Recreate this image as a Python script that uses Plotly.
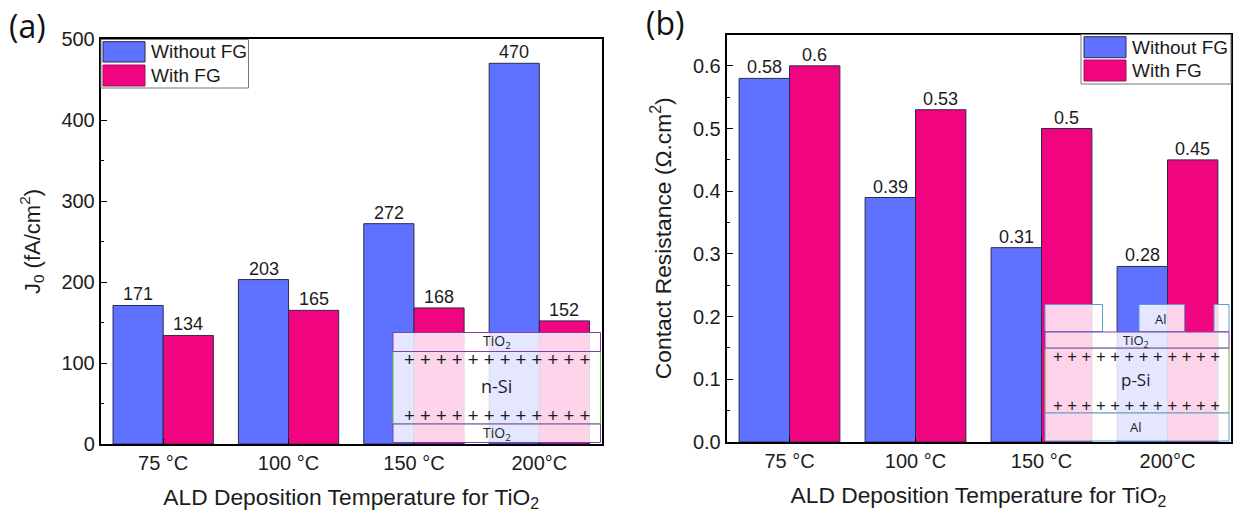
import plotly.graph_objects as go

W, H = 1233, 517
ML, MR, MT, MB = 100, 2, 30, 72

categories = ["75 °C", "100 °C", "150 °C", "200°C"]
series_names = ["Without FG", "With FG"]
j0_without = [171, 203, 272, 470]
j0_with = [134, 165, 168, 152]
rc_without = [0.58, 0.39, 0.31, 0.28]
rc_with = [0.6, 0.53, 0.5, 0.45]

BLUE = "#5f71ff"
PINK = "#f0047f"
EDGE = "#2b2b50"
INK = "#1c1c1c"
SANS = "Liberation Sans"
CAL = "Open Sans"
PURPLE = "#7f3fa8"
LBLUE = "#5b9bd5"
GREEN = "#70ad47"
VEIL = "rgba(255,255,255,0.83)"


def X(p):
    return (p - ML) / (W - ML - MR)


def Y(p):
    return 1 - (p - MT) / (H - MT - MB)


fig = go.Figure()
shapes = []
annots = []

for vals, name, col, xa, ya, shift in [
    (j0_without, series_names[0], BLUE, "x", "y", -25),
    (j0_with, series_names[1], PINK, "x", "y", 25),
    (rc_without, series_names[0], BLUE, "x2", "y2", -25),
    (rc_with, series_names[1], PINK, "x2", "y2", 25),
]:
    fig.add_trace(go.Bar(
        x=categories, y=vals, name=name, xaxis=xa, yaxis=ya,
        marker=dict(color=col, line=dict(color=EDGE, width=1)),
        showlegend=False, offsetgroup=name,
    ))
    for c, v in zip(categories, vals):
        annots.append(dict(xref=xa, yref=ya, x=c, y=v, text=str(v), showarrow=False,
                           xanchor="center", yanchor="bottom", xshift=shift, yshift=-1,
                           font=dict(family=SANS, size=18, color=INK)))


def box(x0, y0, x1, y1, line, fill=VEIL, w=1):
    shapes.append(dict(type="rect", xref="paper", yref="paper",
                       x0=X(x0), x1=X(x1), y0=Y(y0), y1=Y(y1),
                       line=dict(color=line, width=w), fillcolor=fill, layer="above"))


def label(x, y, s, size, family=SANS, anchor="center", color=INK):
    annots.append(dict(xref="paper", yref="paper", x=X(x), y=Y(y), text=s, showarrow=False,
                       xanchor=anchor, yanchor="middle",
                       font=dict(family=family, size=size, color=color)))


def legend(x0, y0, x1, y1, sx0, sx1, s1, s2, tx):
    box(x0, y0, x1, y1, "#777777", "white", 1)
    box(sx0, s1[0], sx1, s1[1], EDGE, BLUE, 1)
    box(sx0, s2[0], sx1, s2[1], "#a0105f", PINK, 1)
    label(tx, (s1[0] + s1[1]) / 2, series_names[0], 19, anchor="left")
    label(tx, (s2[0] + s2[1]) / 2, series_names[1], 19, anchor="left")


# inset (a)
box(393, 351.5, 600.5, 424, GREEN)
box(393, 332.5, 600.5, 351.5, PURPLE)
box(393, 424, 600.5, 442.5, PURPLE)
label(497, 341, "TiO<sub>2</sub>", 14, CAL)
label(497, 433, "TiO<sub>2</sub>", 14, CAL)
label(496, 386, "n-Si", 18, CAL)
plus_row = "+ + + + + + + + + + + +"
label(497, 359, plus_row, 18.5)
label(497, 415, plus_row, 18.5)

# inset (b)
box(1045, 304.5, 1102.5, 331.5, LBLUE)
box(1139, 304.5, 1184.5, 331.5, LBLUE)
box(1214, 304.5, 1229, 331.5, LBLUE)
box(1045, 348, 1229, 413, GREEN)
box(1045, 332, 1229, 348, PURPLE)
box(1045, 413, 1229, 441, LBLUE)
label(1161, 319, "Al", 13, CAL)
label(1136, 341, "TiO<sub>2</sub>", 13, CAL)
label(1135, 379, "p-Si", 17, CAL)
label(1136, 427, "Al", 13, CAL)
label(1136, 356, plus_row, 16.6)
label(1136, 405, plus_row, 16.6)

legend(101, 39.5, 248.5, 88, 103, 145, (41.7, 62), (65, 86), 149)
legend(1081, 34.5, 1231, 84, 1084, 1126, (36.7, 57.7), (60, 81), 1130)

label(7, 25, "(a)", 32, CAL, "left", "#111111")
label(644, 22, "(b)", 32, CAL, "left", "#111111")

fig.update_layout(
    width=W, height=H, autosize=False,
    margin=dict(l=ML, r=MR, t=MT, b=MB),
    paper_bgcolor="white", plot_bgcolor="white",
    barmode="group", bargap=0.2, bargroupgap=0,
    showlegend=False, shapes=shapes, annotations=annots,
    font=dict(family=SANS, color=INK),
)

xcommon = dict(type="category", categoryorder="array", categoryarray=categories,
               showline=True, linecolor="black", linewidth=1.5, mirror=True, automargin=False,
               ticks="inside", ticklen=5, tickcolor="black", showgrid=False,
               tickfont=dict(family=SANS, size=20, color=INK), range=[-0.5, 3.5])
ycommon = dict(showline=True, linecolor="black", linewidth=1.5, mirror=True, automargin=False,
               ticks="inside", ticklen=7, tickcolor="black", showgrid=False, zeroline=False,
               tickfont=dict(family=SANS, size=20, color=INK))
xtitle = "ALD Deposition Temperature for TiO<sub>2</sub>"
TITLE_FONT = dict(family=SANS, size=22.8, color=INK)

fig.update_layout(
    xaxis=dict(domain=[X(100.5), X(602)], anchor="y",
               title=dict(text=xtitle, standoff=16, font=TITLE_FONT), **xcommon),
    yaxis=dict(domain=[Y(444), Y(39)], anchor="x", range=[0, 500], dtick=100,
               minor=dict(dtick=50, ticks="inside", ticklen=4, tickcolor="black"),
               title=dict(text="J<sub>0</sub> (fA/cm<sup>2</sup>)", standoff=15,
                          font=dict(family=SANS, size=22, color=INK)),
               **ycommon),
    xaxis2=dict(domain=[X(726.5), X(1230.5)], anchor="y2",
                title=dict(text=xtitle, standoff=16, font=TITLE_FONT), **xcommon),
    yaxis2=dict(domain=[Y(442), Y(34.5)], anchor="x2", range=[0, 0.65], dtick=0.1,
                tickformat=".1f",
                minor=dict(dtick=0.05, ticks="inside", ticklen=4, tickcolor="black"),
                title=dict(text="Contact Resistance (Ω.cm<sup>2</sup>)", standoff=15,
                           font=TITLE_FONT),
                **ycommon),
)

fig.write_html("out.html", config=dict(displayModeBar=False),
               post_script="document.body.style.margin='0';")
